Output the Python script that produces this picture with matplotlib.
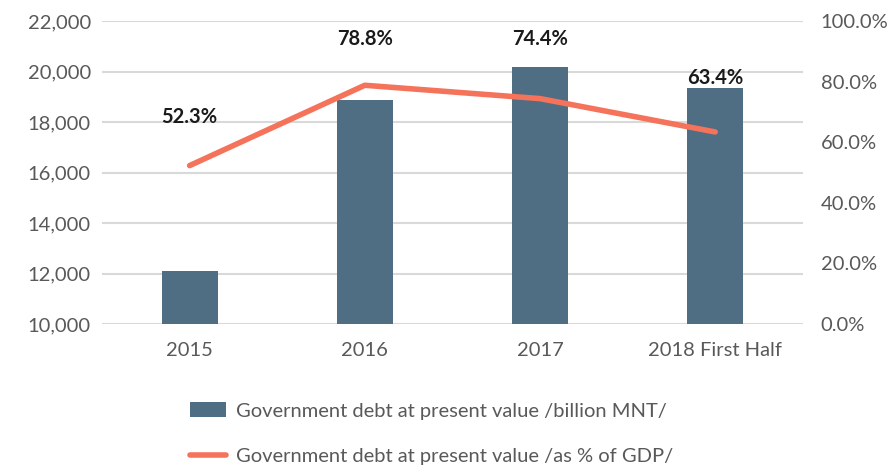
import matplotlib.pyplot as plt
from matplotlib.ticker import FuncFormatter

categories = ["2015", "2016", "2017", "2018 First Half"]
debt_bn_mnt = [12100, 18880, 20180, 19360]
debt_pct_gdp = [52.3, 78.8, 74.4, 63.4]
label_offsets = [28, 26, 13, 0]   # points above the higher of bar/line

bar_color = "#4f6d83"
line_color = "#f4735a"
text_gray = "#595959"

plt.rcParams["font.family"] = ["Lato", "DejaVu Sans"]

fig = plt.figure(figsize=(8.91, 4.67), dpi=100)
ax = fig.add_axes([0.1145, 0.306, 0.7865, 0.649])
ax2 = ax.twinx()

x = list(range(len(categories)))
bars = ax.bar(x, debt_bn_mnt, width=0.32, color=bar_color, zorder=2,
              label="Government debt at present value /billion MNT/")
line, = ax2.plot(x, debt_pct_gdp, color=line_color, lw=4, solid_capstyle="round",
                 zorder=3, label="Government debt at present value /as % of GDP/")

ax.set_xlim(-0.5, len(categories) - 0.5)
ax.set_ylim(10000, 22000)
ax.set_yticks(range(10000, 22001, 2000))
ax.yaxis.set_major_formatter(FuncFormatter(lambda v, p: f"{int(v):,}"))
ax2.set_ylim(0, 100)
ax2.set_yticks(range(0, 101, 20))
ax2.yaxis.set_major_formatter(FuncFormatter(lambda v, p: f"{v:.1f}%"))

ax.set_xticks(x, categories)
ax.grid(axis="y", color="#d9d9d9", lw=1.5, zorder=0)
ax.set_axisbelow(True)
for a in (ax, ax2):
    for s in a.spines.values():
        s.set_visible(False)
    a.tick_params(length=0, labelsize=14.5, colors=text_gray, pad=8)
ax.tick_params(axis="x", pad=13)
ax2.tick_params(pad=13)

# percentage labels above the higher of bar top and line point
for i, (b, p, off) in enumerate(zip(debt_bn_mnt, debt_pct_gdp, label_offsets)):
    bar_top = (b - 10000) / 12000 * 100
    ax2.annotate(f"{p}%", (i, max(bar_top, p)), xytext=(0, off),
                 textcoords="offset points", ha="center", va="bottom",
                 fontsize=14.5, fontweight="bold", color="#1a1a1a")

fig.legend(handles=[bars, line], loc="upper left", bbox_to_anchor=(0.195, 0.174),
           frameon=False, fontsize=14.5, labelcolor=text_gray,
           handlelength=1.8, handleheight=0.8, labelspacing=1.4, handletextpad=0.5,
           borderpad=0.3)

fig.savefig("out.png", dpi=100)
